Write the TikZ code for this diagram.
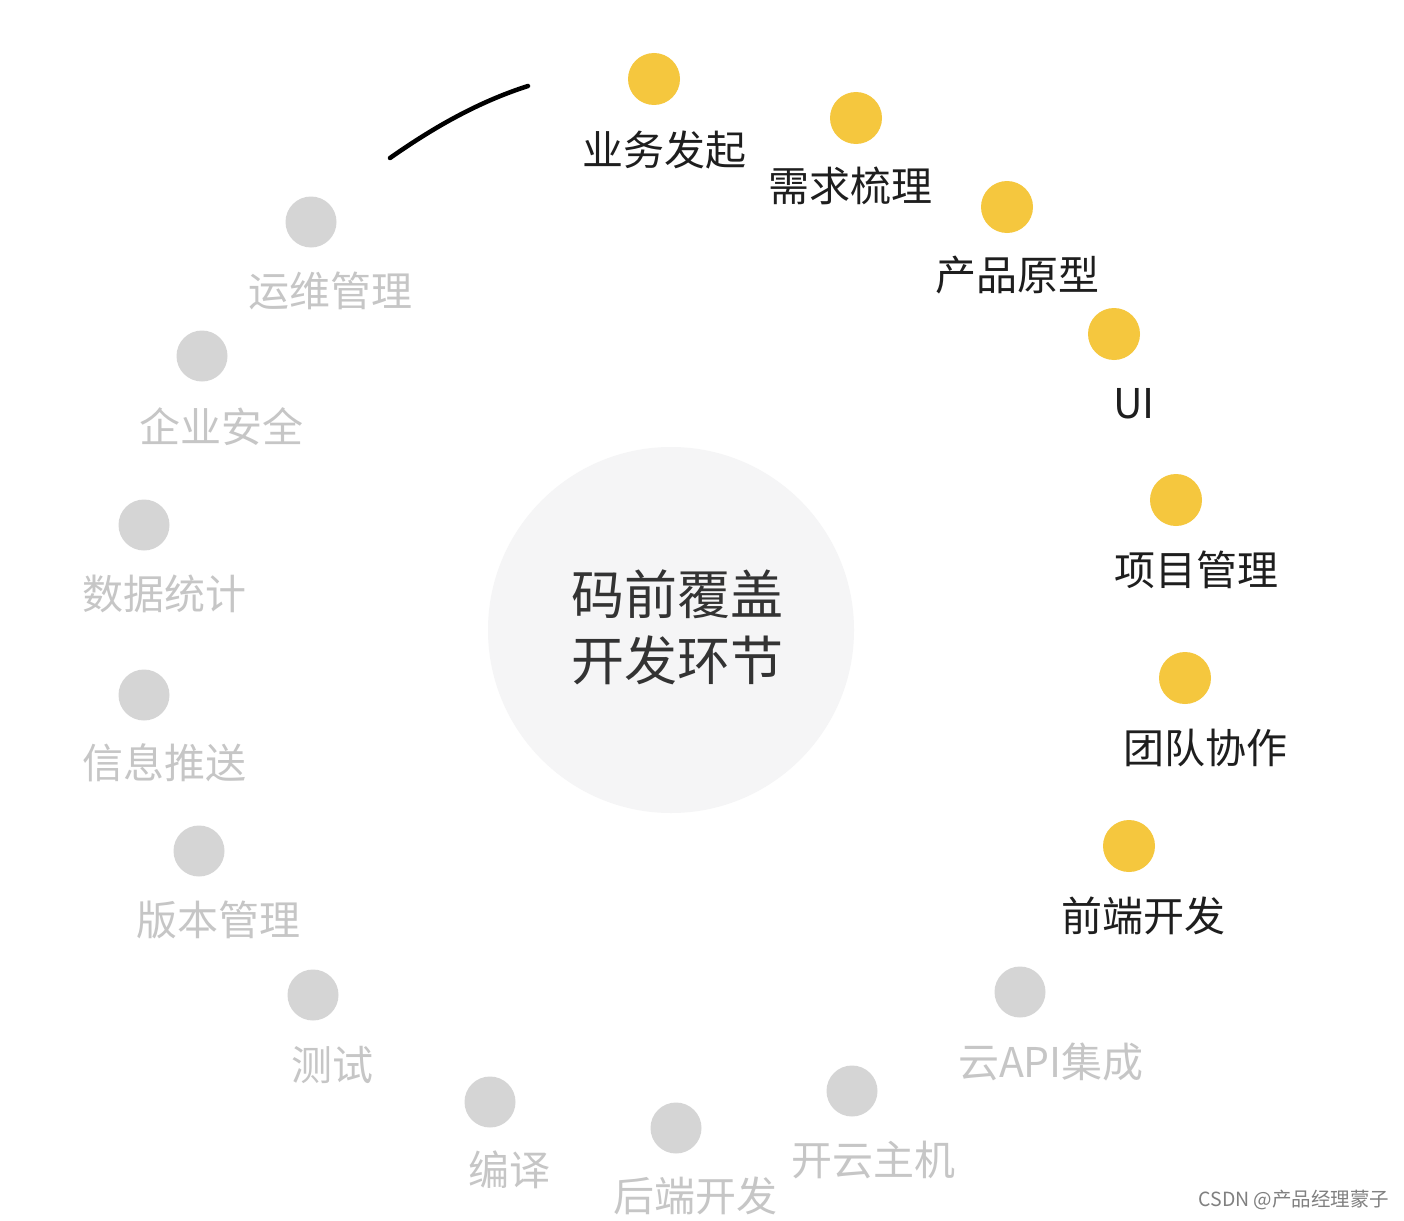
\documentclass[tikz,border=0pt]{standalone}
\usepackage{fontspec}
\setmainfont{Noto Sans CJK SC}
\newfontfamily\cjk{Noto Sans CJK SC}
\definecolor{dotyellow}{HTML}{F5C73E}
\definecolor{dotgray}{HTML}{D5D5D5}
\definecolor{txtgray}{HTML}{C6C6C6}
\definecolor{txtdark}{HTML}{1E1E1E}
\definecolor{hubfill}{HTML}{F5F5F6}
\begin{document}
\begin{tikzpicture}[x=1pt,y=-1pt,
  ydot/.style={circle,fill=dotyellow,minimum size=52pt,inner sep=0pt},
  gdot/.style={circle,fill=dotgray,minimum size=51pt,inner sep=0pt},
  ylab/.style={font=\cjk\fontsize{41}{43}\selectfont,text=txtdark,inner sep=0pt},
  glab/.style={font=\cjk\fontsize{41}{43}\selectfont,text=txtgray,inner sep=0pt},
  hub/.style={circle,fill=hubfill,minimum size=366pt,inner sep=0pt}]
\useasboundingbox[fill=white] (0,0) rectangle (1404,1220);
% hub
\node[hub] (hub) at (671,630) {};
\node[font=\cjk\fontsize{53}{66}\selectfont,text=black!80,align=center,inner sep=0pt] (hubtxt) at (677,627) {码前覆盖\\开发环节};
% arc
\coordinate (arcA) at (390,158);
\coordinate (arcB) at (528,86);
\draw[line width=4.5pt,line cap=round] (arcA) .. controls (430,130) and (475,103) .. (arcB);
% yellow
\node[ydot] (d1) at (654,79) {};   \node[ylab] (l1) at (664,150) {业务发起};
\node[ydot] (d2) at (856,118) {};  \node[ylab] (l2) at (850,186) {需求梳理};
\node[ydot] (d3) at (1007,207) {}; \node[ylab] (l3) at (1017,275) {产品原型};
\node[ydot] (d4) at (1114,334) {}; \node[ylab] (l4) at (1134,404) {UI};
\node[ydot] (d5) at (1176,500) {}; \node[ylab] (l5) at (1196,570) {项目管理};
\node[ydot] (d6) at (1185,678) {}; \node[ylab] (l6) at (1205,748) {团队协作};
\node[ydot] (d7) at (1129,846) {}; \node[ylab] (l7) at (1143,916) {前端开发};
% gray
\node[gdot] (g1) at (1020,992) {}; \node[glab] (m1) at (1051,1062) {云API集成};
\node[gdot] (g2) at (852,1091) {}; \node[glab] (m2) at (873,1160) {开云主机};
\node[gdot] (g3) at (676,1128) {}; \node[glab] (m3) at (695,1196) {后端开发};
\node[gdot] (g4) at (490,1102) {}; \node[glab] (m4) at (509,1170) {编译};
\node[gdot] (g5) at (313,995) {};  \node[glab] (m5) at (332,1065) {测试};
\node[gdot] (g6) at (199,851) {};  \node[glab] (m6) at (218,920) {版本管理};
\node[gdot] (g7) at (144,695) {};  \node[glab] (m7) at (164,763) {信息推送};
\node[gdot] (g8) at (144,525) {};  \node[glab] (m8) at (164,594) {数据统计};
\node[gdot] (g9) at (202,356) {};  \node[glab] (m9) at (221,427) {企业安全};
\node[gdot] (g10) at (311,222) {}; \node[glab] (m10) at (330,291) {运维管理};
% watermark
\node[font=\cjk\fontsize{19.5}{21}\selectfont,text=black!50,inner sep=0pt] (wm) at (1294,1200) {CSDN @产品经理蒙子};
\end{tikzpicture}
\end{document}
